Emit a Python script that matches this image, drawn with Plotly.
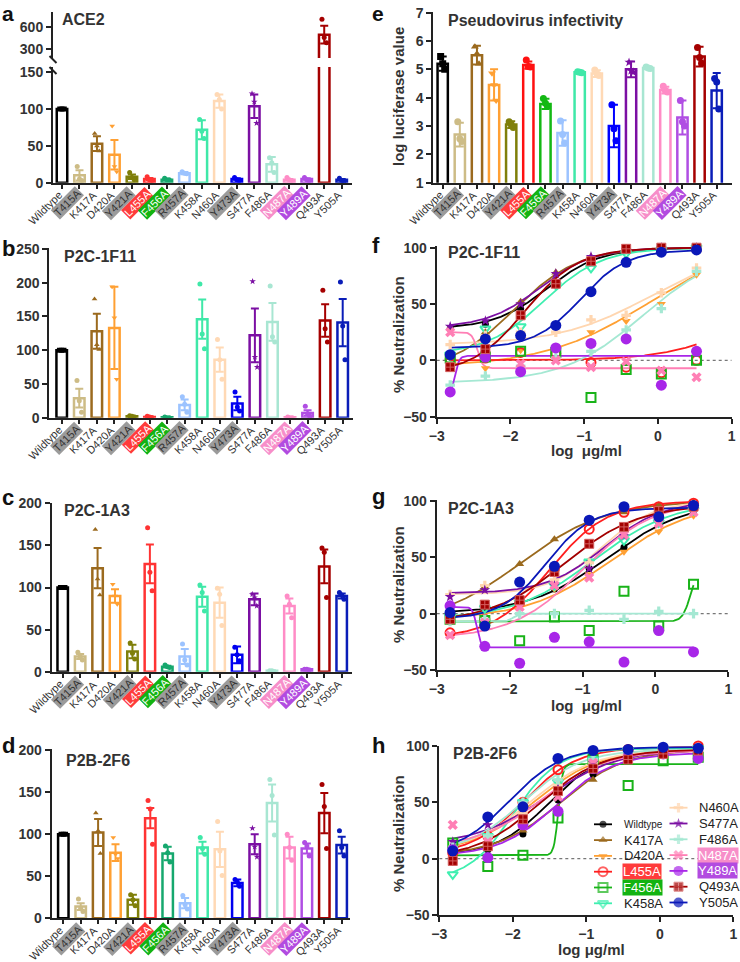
import numpy as np
import plotly.graph_objects as go

W, H = 740, 962
FONT = "Liberation Sans, Arial, sans-serif"
TXT = "#333333"
AX = "#222222"

# ---------------- data ----------------
categories = ["Wildtype", "T415A", "K417A", "D420A", "Y421A", "L455A", "F456A", "R457A",
              "K458A", "N460A", "Y473A", "S477A", "F486A", "N487A", "Y489A", "Q493A", "Y505A"]

ace2_mean = [100, 10, 53, 38, 8, 5, 4, 13, 72, 111, 5, 104, 25, 4, 5, 500, 4]
ace2_sem = [0.5, 7, 10, 20, 3, 1.5, 1, 1.5, 13, 9, 1, 16, 10, 1, 1, 120, 1]
ace2_reps = [[100, 100, 100], [22, 5, 3], [67, 50, 43], [77, 22, 15], [14, 7, 4], [8, 4, 3],
             [6, 4, 4], [15, 13, 12], [86, 70, 60], [120, 113, 100], [7, 4, 3], [121, 110, 81],
             [34, 27, 14], [7, 4, 3], [7, 4, 3], [710, 460, 390], [6, 3, 2]]

p1f11_mean = [100, 29, 128, 133, 2, 1, 0.5, 19, 146, 86, 21, 122, 142, 0.5, 7, 144, 141]
p1f11_sem = [0.5, 14, 26, 61, 1, 1, 0.5, 8, 29, 18, 10, 40, 28, 0.5, 4, 24, 35]
p1f11_reps = [[100, 100, 100], [55, 25, 8], [176, 108, 101], [194, 148, 57], [3, 2, 1], [2, 1, 0],
              [1, 0, 0], [31, 20, 8], [198, 124, 102], [116, 86, 57], [38, 16, 10], [202, 90, 75],
              [195, 120, 112], [1, 0, 0], [17, 6, 2], [189, 132, 112], [201, 136, 86]]

p1a3_mean = [100, 18, 123, 90, 24, 128, 6, 18, 89, 82, 20, 86, 1, 78, 3, 125, 90]
p1a3_sem = [0.5, 3, 24, 8, 8, 23, 1, 9, 12, 18, 10, 7, 0.3, 9, 0.5, 20, 3]
p1a3_reps = [[100, 100, 100], [23, 18, 14], [169, 110, 91], [104, 90, 80], [34, 22, 15],
             [171, 118, 96], [8, 6, 5], [33, 14, 8], [103, 94, 72], [99, 92, 55], [29, 20, 13],
             [92, 88, 78], [1, 1, 0], [90, 80, 64], [3, 3, 2], [147, 142, 88], [94, 91, 86]]

p2f6_mean = [100, 14, 102, 78, 22, 119, 77, 18, 84, 82, 42, 88, 137, 84, 83, 125, 87]
p2f6_sem = [0.5, 4, 16, 10, 6, 12, 8, 6, 7, 21, 4, 12, 22, 13, 6, 24, 10]
p2f6_reps = [[100, 100, 100], [23, 12, 8], [125, 104, 77], [96, 76, 71], [28, 22, 15],
             [140, 130, 88], [86, 78, 67], [27, 16, 11], [96, 83, 76], [115, 80, 51], [46, 43, 38],
             [107, 85, 73], [165, 146, 99], [100, 84, 69], [90, 86, 74], [159, 133, 83], [104, 84, 74]]

luc_mean = [5.2, 2.7, 5.5, 4.45, 3.05, 5.15, 3.78, 2.75, 4.9, 4.85, 3.0, 5.0, 5.05, 4.27, 3.3, 5.45, 4.25]
luc_sd = [0.25, 0.42, 0.33, 0.55, 0.12, 0.13, 0.18, 0.45, 0.03, 0.12, 0.75, 0.28, 0.03, 0.12, 0.6, 0.35, 0.62]
luc_reps = [[5.45, 5.2, 5.0], [3.15, 2.55, 2.45], [5.8, 5.55, 5.2], [4.86, 4.45, 3.9], [3.15, 3.05, 2.95],
            [5.33, 5.1, 5.08], [3.97, 3.8, 3.7], [3.18, 2.7, 2.4], [4.92, 4.9, 4.88], [4.98, 4.85, 4.78],
            [3.75, 2.9, 2.48], [5.25, 4.95, 4.9], [5.08, 5.05, 5.03], [4.4, 4.25, 4.2], [3.9, 3.15, 3.0],
            [5.77, 5.42, 5.22], [4.68, 4.55, 3.6]]

# neutralization curves
log_conc = [-2.817, -2.34, -1.862, -1.385, -0.908, -0.431, 0.046, 0.523]
series = ["Wildtype", "K417A", "D420A", "L455A", "F456A", "K458A", "N460A",
          "S477A", "F486A", "N487A", "Y489A", "Q493A", "Y505A"]

f_resp = [[28, 32, 46, 68, 88, 98, 100, 100], [2, 25, 52, 78, 92, 98, 100, 100],
          [-5, -7, 9, 11, 25, 35, 50, 76], [1, 2, 7, 6, -2, -6, -11, 0],
          [2, 3, 8, 7, -33, -8, -12, 0], [5, 28, 30, 67, 82, 95, 98, 100],
          [14, 22, 25, 25, 36, 40, 60, 82], [30, 35, 50, 77, 92, 98, 100, 100],
          [-22, -14, -5, 2, 8, 27, 46, 79], [25, 3, -3, 0, -6, -1, -9, -15],
          [-28, 3, -10, 11, 15, 19, -22, 8], [-6, 10, 40, 68, 88, 99, 100, 100],
          [5, 19, 22, 31, 61, 87, 96, 98]]
# fitted 4PL parameters: (left plateau, right plateau, logIC50, hill)
f_fit = [(28, 100, -1.5, 1.2), (-10, 100, -1.95, 1.0), (-6, 110, -0.1, 0.6), (0, 100, 1.5, 0.8),
         None, (5, 100, -1.55, 1.1), (14, 100, -0.1, 0.7), (29, 100, -1.6, 1.2),
         (-20, 100, -0.2, 0.8), (25, -7, -2.45, 12), (-30, 4, -2.75, 15),
         (-12, 100, -1.8, 1.2), (11, 98, -1.05, 1.4)]

g_resp = [[2, 5, 10, 22, 40, 59, 82, 92], [2, 24, 44, 66, 82, 90, 96, 99],
          [-3, 10, 10, 22, 35, 55, 73, 87], [-17, -5, 10, 40, 75, 90, 95, 98],
          [-5, -6, -24, -3, -15, 20, -11, 26], [-3, 5, 10, 25, 46, 65, 81, 92],
          [17, 25, 12, 30, 45, 74, 85, 93], [15, 21, 14, 25, 40, 69, 82, 93],
          [-7, -5, 0, 0, 3, -5, 2, 0], [-19, -8, 6, 25, 32, 70, 80, 90],
          [7, -29, -44, -21, -25, -43, -15, -34], [-5, 8, 12, 37, 62, 77, 91, 95],
          [1, -11, 28, 42, 83, 95, 86, 96]]
g_fit = [(0, 100, -0.65, 0.8), (-10, 100, -1.85, 0.75), (-5, 100, -0.6, 0.75), (-22, 100, -1.45, 1.1),
         (-7, 40, 0.48, 8), (-5, 100, -0.85, 0.8), (17, 100, -0.75, 1.2), (18, 100, -0.7, 1.1),
         (-7, 0, -1.95, 10), (-22, 100, -1.0, 0.9), (6, -30, -2.45, 15),
         (-8, 97, -1.25, 0.85), (-5, 94, -1.5, 1.4)]

h_resp = [[4, 8, 22, 52, 75, 90, 95, 97], [5, 10, 25, 45, 70, 88, 93, 96],
          [8, 20, 40, 62, 85, 93, 95, 97], [5, 20, 50, 79, 90, 97, 97, 100],
          [14, -7, 3, 36, 88, 65, 87, 90], [-14, 20, 50, 68, 88, 96, 97, 98],
          [10, 20, 40, 65, 85, 95, 96, 97], [15, 30, 45, 62, 85, 92, 95, 96],
          [10, 20, 50, 70, 88, 95, 96, 97], [30, 15, 30, 55, 85, 93, 95, 96],
          [8, 1, 30, 42, 80, 90, 93, 89], [-2, 11, 35, 60, 80, 88, 93, 96],
          [7, 37, 46, 89, 96, 97, 99, 98]]
h_fit = [(3, 97, -1.5, 1.2), (3, 97, -1.35, 1.0), (5, 97, -1.7, 1.0), (3, 99, -1.85, 1.2),
         (3, 84, -1.38, 15), (-20, 98, -2.0, 1.4), (5, 97, -1.75, 1.0), (12, 97, -1.55, 0.9),
         (5, 97, -1.85, 1.1), (10, 96, -1.6, 1.0), (2, 94, -1.4, 1.1), (0, 97, -1.65, 1.0),
         (3, 99, -2.05, 1.2)]

# ---------------- styles ----------------
bar_colors = ["#000000", "#CDBC86", "#9B6A1E", "#FFA033", "#7F7F0A", "#FF3333", "#16A86E", "#9CC3FF",
              "#3FE8A8", "#FFD9B5", "#0000F0", "#7B0FA3", "#A8E6D2", "#FF8CC6", "#B04EE3", "#A50000", "#0A1DB8"]
bar_colors_e = list(bar_colors)
bar_colors_e[5] = "#FF1010"
bar_colors_e[6] = "#14B814"
bar_colors_e[10] = "#0000FF"
bar_symbols = ["square", "circle", "triangle-up", "triangle-down", "circle", "circle", "circle", "circle",
               "circle", "circle", "circle", "star", "circle", "circle", "circle", "circle", "circle"]
label_style = {"T415A": ("#9B9B9B", "#333333"), "Y421A": ("#9B9B9B", "#333333"),
               "R457A": ("#9B9B9B", "#333333"), "Y473A": ("#9B9B9B", "#333333"),
               "L455A": ("#FF3B3B", "#FFFFFF"), "F456A": ("#12B312", "#FFFFFF"),
               "N487A": ("#F78EC9", "#FFFFFF"), "Y489A": ("#B24BE0", "#FFFFFF")}

s_colors = ["#000000", "#9B6A1E", "#FFA033", "#FF1F1F", "#19B319", "#3FEFB0", "#FFD6B0",
            "#7B0FA3", "#A5E8D3", "#FF7FB5", "#A826E8", "#A30000", "#0A18B8"]
s_symbols = ["circle", "triangle-up", "triangle-down", "circle-open", "square-open", "triangle-down-open",
             "cross", "star", "cross", "x", "circle", "square-cross", "circle"]
s_sizes = [7, 8, 8, 9, 9, 9, 8, 8, 8, 9, 11, 9, 11]

# ---------------- helpers ----------------
def fx(p):
    return p / W


def fy(p):
    return 1 - p / H


def lin(v1, p1, v2, p2, pa, pb):
    s = (v2 - v1) / (p2 - p1)
    return [v1 + (pa - p1) * s, v1 + (pb - p1) * s]


def names(i):
    s = "" if i == 1 else str(i)
    return "xaxis" + s, "yaxis" + s, "x" + s, "y" + s


layout_axes = {}
annotations = []
shapes = []
fig = go.Figure()


def base_axis(**kw):
    d = dict(showline=True, linewidth=2, linecolor=AX, ticks="outside", ticklen=5, tickwidth=2,
             tickcolor=AX, showgrid=False, zeroline=False, fixedrange=True, automargin=False,
             tickfont=dict(family=FONT, size=14, color=TXT, weight="bold"))
    d.update(kw)
    return d


def make_axes(i, xpx, ypx, xr, yr, xkw, ykw):
    xn, yn, xa, ya = names(i)
    layout_axes[xn] = base_axis(domain=[fx(xpx[0]), fx(xpx[1])], range=xr, anchor=ya, **xkw)
    layout_axes[yn] = base_axis(domain=[fy(ypx[1]), fy(ypx[0])], range=yr, anchor=xa, **ykw)
    return xa, ya


def ann(px, py, text, size=13, bold=True, color=TXT, xanchor="left", yanchor="middle", angle=0, **kw):
    a = dict(x=fx(px), y=fy(py), xref="paper", yref="paper", text=text, showarrow=False,
             xanchor=xanchor, yanchor=yanchor, textangle=angle,
             font=dict(family=FONT, size=size, color=color, weight="bold" if bold else "normal"))
    a.update(kw)
    annotations.append(a)


def cat_labels(xa, axis_px):
    for i, c in enumerate(categories):
        a = dict(x=i, y=fy(axis_px), xref=xa, yref="paper", text=c, showarrow=False, textangle=-45,
                 xanchor="right", yanchor="top", xshift=5, yshift=-3,
                 font=dict(family=FONT, size=11, color=TXT))
        if c in label_style:
            a["bgcolor"] = label_style[c][0]
            a["font"]["color"] = label_style[c][1]
            a["borderpad"] = 0
        annotations.append(a)


def bars(xa, ya, means, errs, reps, colors, msize=5, offs=(-0.13, 0.0, 0.13)):
    for i in range(len(categories)):
        fig.add_trace(go.Bar(x=[i], y=[means[i]], width=0.6, xaxis=xa, yaxis=ya,
                             marker=dict(color="white", line=dict(color=colors[i], width=2.5)),
                             error_y=dict(type="data", array=[errs[i]], color=colors[i], thickness=2, width=4),
                             showlegend=False, hoverinfo="skip"))
    for i in range(len(categories)):
        fig.add_trace(go.Scatter(x=[i + o for o in offs], y=reps[i], mode="markers", xaxis=xa, yaxis=ya,
                                 marker=dict(color=colors[i], size=msize, symbol=bar_symbols[i],
                                             line=dict(width=0)),
                                 showlegend=False, hoverinfo="skip"))


def cat_axis_kw():
    return dict(tickvals=list(range(len(categories))), showticklabels=False, ticklen=4, tickwidth=1.5)


# ---------------- panel a (ACE2, broken axis) ----------------
xr_a = lin(0, 62, 16, 341.7, 53, 352)
xa, ya = make_axes(1, (53, 352), (67, 182.7), xr_a, lin(0, 182.7, 150, 72.3, 182.7, 67),
                   cat_axis_kw(), dict(tickvals=[0, 50, 100, 150]))
bars(xa, ya, ace2_mean, ace2_sem, ace2_reps, bar_colors)
cat_labels(xa, 182.7)
xa2, ya2 = make_axes(2, (53, 352), (12, 58), xr_a, lin(300, 49.3, 600, 27.3, 58, 12),
                     dict(showline=False, ticks="", showticklabels=False), dict(tickvals=[300, 600]))
bars(xa2, ya2, ace2_mean, ace2_sem, ace2_reps, bar_colors)
for (y0, y1) in [(56, 63), (67, 74)]:
    shapes.append(dict(type="line", xref="paper", yref="paper", x0=fx(49.5), x1=fx(56.5), y0=fy(y0), y1=fy(y1),
                       line=dict(color=AX, width=2)))

# ---------------- panel b ----------------
xa, ya = make_axes(3, (49.3, 352.7), (248, 417.7), lin(0, 61.7, 16, 342.7, 49.3, 352.7),
                   lin(0, 417.7, 250, 249, 417.7, 248), cat_axis_kw(), dict(tickvals=[0, 50, 100, 150, 200, 250]))
bars(xa, ya, p1f11_mean, p1f11_sem, p1f11_reps, bar_colors)
cat_labels(xa, 417.7)

# ---------------- panel c ----------------
xa, ya = make_axes(4, (51.7, 352), (502.5, 671.7), lin(0, 62.7, 16, 341.7, 51.7, 352),
                   lin(0, 671.7, 200, 503.3, 671.7, 502.5), cat_axis_kw(), dict(tickvals=[0, 50, 100, 150, 200]))
bars(xa, ya, p1a3_mean, p1a3_sem, p1a3_reps, bar_colors)
cat_labels(xa, 671.7)

# ---------------- panel d ----------------
xa, ya = make_axes(5, (51.7, 350), (749, 918.3), lin(0, 63.3, 16, 341.7, 51.7, 350),
                   lin(0, 918.3, 200, 750, 918.3, 749), cat_axis_kw(), dict(tickvals=[0, 50, 100, 150, 200]))
bars(xa, ya, p2f6_mean, p2f6_sem, p2f6_reps, bar_colors)
cat_labels(xa, 918.3)

# ---------------- panel e ----------------
xa, ya = make_axes(6, (433.3, 731.7), (12, 182.7), lin(0, 442.7, 16, 716.7, 433.3, 731.7),
                   lin(1, 182.7, 7, 12.7, 182.7, 12), cat_axis_kw(), dict(tickvals=[1, 2, 3, 4, 5, 6, 7]))
bars(xa, ya, luc_mean, luc_sd, luc_reps, bar_colors_e, msize=7, offs=(-0.12, 0.0, 0.12))
cat_labels(xa, 182.7)

# ---------------- curve panels ----------------
xs = np.linspace(min(log_conc), max(log_conc), 240)


def fourpl(x, p):
    a, b, c, h = p
    return a + (b - a) / (1.0 + 10.0 ** ((c - x) * h))


def marker_line(k):
    if s_symbols[k].endswith("open"):
        return dict(color=s_colors[k], width=2)
    if s_symbols[k] == "square-cross":
        return dict(color="#D46060", width=1)
    return dict(width=0)


def curve_panel(i, xpx, ypx, resp, fits):
    xa, ya = make_axes(i, xpx, ypx, lin(-3, xpx[0], 1, xpx[1], xpx[0], xpx[1]),
                       lin(-50, ypx[1], 100, ypx[1] - 169, ypx[1], ypx[0]),
                       dict(tickvals=[-3, -2, -1, 0, 1]), dict(tickvals=[-50, 0, 50, 100]))
    shapes.append(dict(type="line", xref=xa, yref=ya, x0=-3, x1=1, y0=0, y1=0, layer="below",
                       line=dict(color="#777777", width=1.2, dash="dot")))
    for k in range(len(series)):
        if fits[k] is None:
            continue
        fig.add_trace(go.Scatter(x=xs, y=fourpl(xs, fits[k]), mode="lines", xaxis=xa, yaxis=ya,
                                 line=dict(color=s_colors[k], width=1.8), showlegend=False, hoverinfo="skip"))
    for k in range(len(series)):
        fig.add_trace(go.Scatter(x=log_conc, y=resp[k], mode="markers", xaxis=xa, yaxis=ya,
                                 marker=dict(color=s_colors[k], size=s_sizes[k], symbol=s_symbols[k],
                                             line=marker_line(k)),
                                 cliponaxis=False, showlegend=False, hoverinfo="skip"))
    return xa, ya


curve_panel(7, (436.7, 731.7), (246, 416.7), f_resp, f_fit)
curve_panel(8, (436.7, 728.3), (500, 670), g_resp, g_fit)
curve_panel(9, (439.3, 733.3), (745.5, 915), h_resp, h_fit)

# ---------------- legend (drawn in an overlay with pixel coordinates) ----------------
layout_axes["xaxis10"] = dict(domain=[0, 1], range=[0, W], visible=False, fixedrange=True, anchor="y10",
                              automargin=False)
layout_axes["yaxis10"] = dict(domain=[0, 1], range=[H, 0], visible=False, fixedrange=True, anchor="x10",
                              automargin=False)
row_h = 15.8
for k, name in enumerate(series):
    if k < 6:
        cx, cy, tx = 603, 824.3 + k * row_h, 622
    else:
        cx, cy, tx = 678.5, 807.7 + (k - 6) * row_h, 697
    fig.add_trace(go.Scatter(x=[cx - 9, cx, cx + 9], y=[cy, cy, cy], mode="lines+markers", xaxis="x10", yaxis="y10",
                             line=dict(color=s_colors[k], width=1.8),
                             marker=dict(color=s_colors[k], size=[0, min(s_sizes[k], 10), 0], symbol=s_symbols[k],
                                         line=marker_line(k)),
                             showlegend=False, hoverinfo="skip"))
    kw = {}
    col = "#222222"
    if name in label_style and name not in ("T415A", "Y421A", "R457A", "Y473A"):
        kw = dict(bgcolor=label_style[name][0], borderpad=0, height=15)
        col = "#FFFFFF"
    ann(tx, cy, name, size=10 if name == "Wildtype" else 13, bold=False, color=col, **kw)

# ---------------- titles, panel letters, axis titles ----------------
for (px, py, t) in [(0, 0, "a"), (370, 0, "e")]:
    ann(px, py, t, size=21, color="#111111", yanchor="top")
for (px, py, t) in [(0, 248, "b"), (0, 497, "c"), (0, 745, "d"),
                    (370, 245, "f"), (370, 496, "g"), (370, 745, "h")]:
    ann(px, py, t, size=22, color="#111111")
for (px, py, t) in [(60, 19, "ACE2"), (62, 256, "P2C-1F11"), (62, 511, "P2C-1A3"), (64, 760, "P2B-2F6"),
                    (446, 20, "Pseudovirus infectivity"), (446, 252, "P2C-1F11"), (446, 508, "P2C-1A3"),
                    (451, 753, "P2B-2F6")]:
    ann(px, py, t, size=16)
ann(398, 96, "log luciferase value", size=15, angle=-90, xanchor="center")
for (py) in [334, 584, 833]:
    ann(398, py, "% Neutralization", size=15, angle=-90, xanchor="center")
ann(586, 450, "log\u00a0\u00a0μg/ml", size=15, xanchor="center")
ann(586, 705, "log\u00a0\u00a0μg/ml", size=15, xanchor="center")
ann(591, 949, "log μg/ml", size=15, xanchor="center")

fig.update_layout(width=W, height=H, margin=dict(l=0, r=0, t=0, b=0, pad=0, autoexpand=False),
                  paper_bgcolor="white",
                  plot_bgcolor="rgba(0,0,0,0)", showlegend=False, barmode="overlay", hovermode=False,
                  font=dict(family=FONT, color=TXT), annotations=annotations, shapes=shapes, **layout_axes)
fig.write_html("out.html", config={"displayModeBar": False},
               post_script="document.body.style.margin='0';document.body.style.overflow='hidden';")
